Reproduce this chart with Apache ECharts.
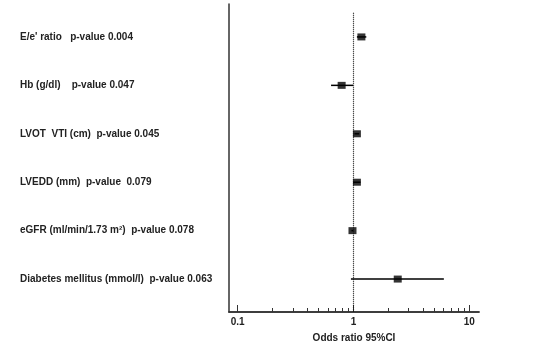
<!DOCTYPE html>
<html><head><meta charset="utf-8">
<script src="https://cdn.jsdelivr.net/npm/echarts@6/dist/echarts.min.js"></script>
<style>html,body{margin:0;padding:0;background:#fff}#c{width:537px;height:350px}</style>
</head><body><div id="c"></div>
<script>
var categories = [
  "E/e' ratio   p-value 0.004",
  "Hb (g/dl)    p-value 0.047",
  "LVOT  VTI (cm)  p-value 0.045",
  "LVEDD (mm)  p-value  0.079",
  "eGFR (ml/min/1.73 m\u00b2)  p-value 0.078",
  "Diabetes mellitus (mmol/l)  p-value 0.063"
];
var oddsRatio = [1.17, 0.79, 1.07, 1.07, 0.98, 2.41];
var ciLow =     [1.07, 0.64, 1.02, 0.99, 0.96, 0.95];
var ciHigh =    [1.29, 0.99, 1.12, 1.15, 1.00, 6.03];
var majorTicks = [0.1, 1, 10];
var minorTicks = [0.2,0.3,0.4,0.5,0.6,0.7,0.8,0.9,2,3,4,5,6,7,8,9];
var refOR = 1;
var axisMinOR = 0.0841, axisMaxOR = 12.13;

var L = Math.log10;
var font = '"Liberation Sans", Arial, sans-serif';
var chart = echarts.init(document.getElementById('c'));
var xBase = {
  type: 'value', min: L(axisMinOR), max: L(axisMaxOR),
  splitLine: {show: false},
  axisLine: {show: true, onZero: false, lineStyle: {color: '#333', width: 1.5}}
};
var scatterData = oddsRatio.map(function(v, i){ return [L(v), i]; });
var ciData = oddsRatio.map(function(v, i){ return [L(ciLow[i]), L(ciHigh[i]), i]; });

chart.setOption({
  animation: false,
  grid: {left: 229, right: 58, top: 4, bottom: 38, containLabel: false},
  xAxis: [
    Object.assign({}, xBase, {
      axisTick: {show: true, inside: true, length: 7, customValues: majorTicks.map(L), lineStyle: {color: '#333', width: 1}},
      axisLabel: {customValues: majorTicks.map(L), formatter: function(v){ var p = Math.round(Math.pow(10, v)*10)/10; return String(p); },
        color: '#222', fontFamily: font, fontWeight: 'bold', fontSize: 10, margin: 5},
      name: 'Odds ratio 95%CI', nameLocation: 'middle', nameGap: 21,
      nameTextStyle: {color: '#222', fontFamily: font, fontWeight: 'bold', fontSize: 10}
    }),
    Object.assign({}, xBase, {
      position: 'bottom',
      axisTick: {show: true, inside: true, length: 4, customValues: minorTicks.map(L), lineStyle: {color: '#333', width: 1}},
      axisLabel: {show: false}
    })
  ],
  yAxis: {
    type: 'value', inverse: true, min: -0.68, max: 5.68,
    splitLine: {show: false},
    axisLine: {show: true, onZero: false, lineStyle: {color: '#333', width: 1.5}},
    axisTick: {show: false},
    axisLabel: {
      customValues: categories.map(function(c, i){ return i; }),
      formatter: function(v){ return categories[Math.round(v)] || ''; },
      align: 'left', margin: 209, color: '#222', fontFamily: font, fontWeight: 'bold', fontSize: 10
    }
  },
  series: [
    {
      type: 'line', xAxisIndex: 0, symbol: 'none', silent: true,
      data: [[L(refOR), -0.5], [L(refOR), 5.68]],
      lineStyle: {color: '#111', width: 1.2, type: [1, 1]}
    },
    {
      type: 'custom', xAxisIndex: 0,
      renderItem: function(params, api){
        var a = api.coord([api.value(0), api.value(2)]);
        var b = api.coord([api.value(1), api.value(2)]);
        return {type: 'line', shape: {x1: a[0], y1: a[1], x2: b[0], y2: b[1]}, style: {stroke: '#000', lineWidth: 1.5}};
      },
      encode: {x: [0, 1], y: 2},
      data: ciData
    },
    {
      type: 'scatter', xAxisIndex: 0, symbol: 'rect', symbolSize: [8, 7],
      itemStyle: {color: '#000'},
      data: scatterData
    }
  ]
});
</script></body></html>
